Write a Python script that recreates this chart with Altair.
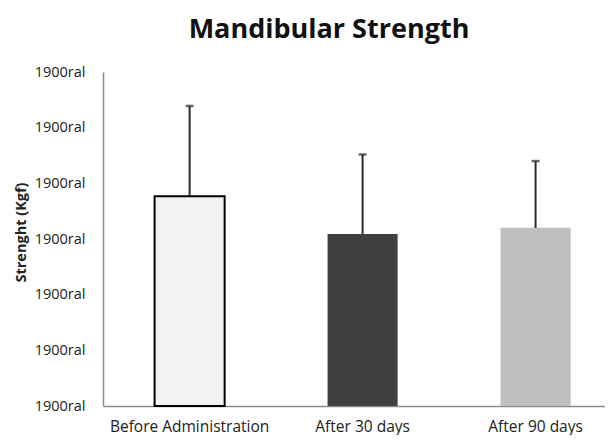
import altair as alt
import pandas as pd

categories = ["Before Administration", "After 30 days", "After 90 days"]
means = [3.77, 3.09, 3.20]
errors = [1.62, 1.43, 1.20]
colors = ["#f2f2f2", "#404040", "#bfbfbf"]
tick_values = [0, 1, 2, 3, 4, 5, 6]
tick_label = "1900ral"

df = pd.DataFrame({
    "group": categories,
    "mean": means,
    "err": errors,
    "color": colors,
})
df["upper"] = df["mean"] + df["err"]

font = "Open Sans"

x = alt.X(
    "group:N",
    sort=categories,
    title=None,
    scale=alt.Scale(paddingInner=0.595, paddingOuter=0.2485, align=0.6),
    axis=alt.Axis(labelAngle=0, ticks=False, labelPadding=13, labelFontSize=15.5,
                  labelFont=font, labelColor="#222", domainColor="#8c8c8c", domainWidth=1.5),
)
y = alt.Y(
    "mean:Q",
    title="Strenght (Kgf)",
    scale=alt.Scale(domain=[0, 6], nice=False),
    axis=alt.Axis(values=tick_values, labelExpr=f"'{tick_label}'", grid=False, ticks=False,
                  labelFlush=False,
                  labelPadding=18, labelFontSize=14.5, labelFont=font, labelColor="#222",
                  titleFont=font, titleFontSize=14.5, titleFontWeight="bold", titleColor="#222",
                  titlePadding=6, titleY=160, domainColor="#8c8c8c", domainWidth=1.5),
)

bars = alt.Chart(df).mark_bar(stroke="#000000", strokeWidth=2).encode(
    x=x,
    y=y,
    fill=alt.Fill("color:N", scale=None),
    strokeOpacity=alt.condition(alt.datum.group == "Before Administration", alt.value(1), alt.value(0)),
)

err_rule = alt.Chart(df).mark_rule(color="#2b2b2b", strokeWidth=2).encode(
    x=alt.X("group:N", sort=categories),
    y="mean:Q",
    y2="upper:Q",
)

err_cap = alt.Chart(df).mark_tick(color="#2b2b2b", thickness=2.5, size=8, orient="horizontal").encode(
    x=alt.X("group:N", sort=categories),
    y="upper:Q",
)

chart = alt.layer(bars, err_rule, err_cap).properties(
    width=502,
    height=334,
    background="white",
    padding={"left": 5, "top": 8, "right": 0, "bottom": 0},
    title=alt.TitleParams(
        "Mandibular Strength",
        font=font,
        fontSize=27,
        fontWeight="bold",
        color="#111",
        anchor="middle",
        dx=-25,
        offset=20,
    ),
).configure_view(strokeWidth=0, stroke="transparent")

chart.save("out.html", embed_options={"renderer": "svg", "actions": False})
